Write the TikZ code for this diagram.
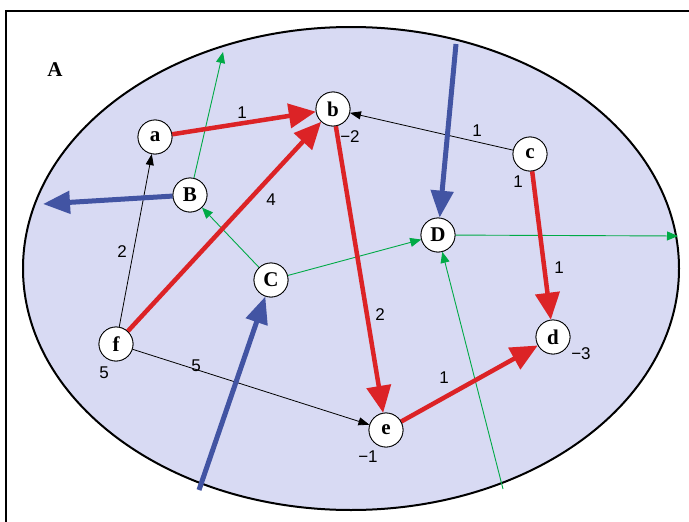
\documentclass[tikz,border=0pt]{standalone}
\usepackage{fontspec}
\setmainfont{Liberation Serif}
\setsansfont{Liberation Sans}
\usetikzlibrary{arrows.meta}
\definecolor{lav}{RGB}{216,218,243}
\definecolor{rd}{RGB}{220,35,38}
\definecolor{bl}{RGB}{66,84,163}
\definecolor{gr}{RGB}{0,170,70}
\tikzset{
  vtx/.style={circle,draw=black,line width=0.8pt,fill=white,minimum size=34pt,inner sep=0pt,font=\fontsize{21}{22}\selectfont\bfseries},
  redarr/.style={draw=rd,line width=4.5pt,-{Triangle[length=27pt,width=24pt]}},
  bluearr/.style={draw=bl,line width=5pt,-{Triangle[length=27pt,width=22pt]}},
  blkarr/.style={draw=black,line width=0.8pt,-{Triangle[length=11pt,width=8pt]}},
  grnarr/.style={draw=gr,line width=0.9pt,-{Triangle[length=11pt,width=9pt]}},
  lbl/.style={font=\sffamily\fontsize{17}{17}\selectfont,inner sep=0pt}
}
\begin{document}
\begin{tikzpicture}[x=1pt,y=-1pt]
\useasboundingbox (0,0) rectangle (689,522);
\fill[white] (0,0) rectangle (689,522);
\draw[line width=1.5pt] (6,522) -- (6,11) -- (689,11);
\fill[lav] (351,268.5) ellipse [x radius=328, y radius=241.5];
\draw[line width=2pt] (351,268.5) ellipse [x radius=328, y radius=241.5];
\node[font=\fontsize{21}{21}\selectfont\bfseries] (labA) at (55,70) {A};
% vertices
\node[vtx] (a) at (155,137) {a};
\node[vtx] (b) at (333,109) {b};
\node[vtx] (c) at (530,154) {c};
\node[vtx] (B) at (190,195) {B};
\node[vtx] (D) at (438,235) {D};
\node[vtx] (C) at (271,280) {C};
\node[vtx] (f) at (116,344) {f};
\node[vtx] (d) at (553,337) {d};
\node[vtx] (e) at (386,430) {e};
% free ends
\coordinate (Bout) at (43,204);
\coordinate (Btop) at (223,52);
\coordinate (Dtop) at (456,44);
\coordinate (Dright) at (678,236);
\coordinate (Cbot) at (199,490);
\coordinate (Dbot) at (503,489);
% black
\draw[blkarr] (f) -- (a);
\draw[blkarr] (c) -- (b);
\draw[blkarr] (f) -- (e);
% green
\draw[grnarr] (B) -- (Btop);
\draw[grnarr] (C) -- (B);
\draw[grnarr] (C) -- (D);
\draw[grnarr] (D) -- (Dright);
\draw[grnarr] (Dbot) -- (D);
% red
\draw[redarr] (a) -- (b);
\draw[redarr] (f) -- (b);
\draw[redarr] (b) -- (e);
\draw[redarr] (c) -- (d);
\draw[redarr] (e) -- (d);
% blue
\draw[bluearr] (B) -- (Bout);
\draw[bluearr] (Dtop) -- (D);
\draw[bluearr] (Cbot) -- (C);
% redraw nodes on top
\foreach \n/\t in {a/a,b/b,c/c,B/B,D/D,C/C,f/f,d/d,e/e}{\node[vtx] at (\n) {\t};}
% labels
\node[lbl] (l1) at (242,113) {1};
\node[lbl] (l2) at (271,200) {4};
\node[lbl] (l3) at (380,315) {2};
\node[lbl] (l4) at (518,182) {1};
\node[lbl] (l5) at (559,268) {1};
\node[lbl] (l6) at (444,378) {1};
\node[lbl] (l7) at (122,252) {2};
\node[lbl] (l8) at (477,131) {1};
\node[lbl] (l9) at (196,366) {5};
\node[lbl] (l10) at (104,373) {5};
\node[lbl] (l11) at (350,137) {−2};
\node[lbl] (l12) at (581,354) {−3};
\node[lbl] (l13) at (368,457) {−1};
\end{tikzpicture}
\end{document}
